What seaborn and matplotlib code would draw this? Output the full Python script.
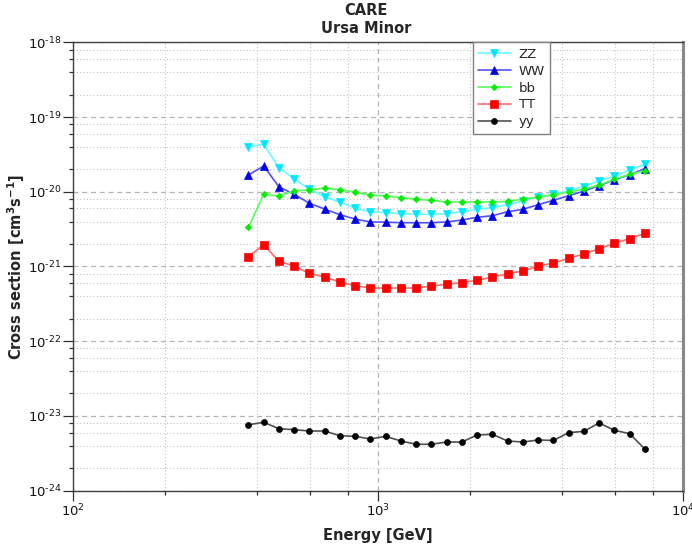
import numpy as np
import pandas as pd
import matplotlib
matplotlib.use("Agg")
import matplotlib.pyplot as plt
from matplotlib.ticker import LogLocator, NullFormatter, FixedLocator
import seaborn as sns

# Energy bins [GeV]
energy = [376, 422, 473, 531, 596, 668, 750, 841, 944, 1059, 1189, 1334, 1496,
          1679, 1884, 2113, 2371, 2661, 2985, 3350, 3758, 4217, 4732, 5309,
          5957, 6683, 7499]

# Upper limits on <sigma v> [cm^3 s^-1] per annihilation channel
zz = [4.01e-20, 4.32e-20, 2.10e-20, 1.48e-20, 1.08e-20, 8.59e-21, 7.30e-21,
      6.01e-21, 5.41e-21, 5.25e-21, 5.08e-21, 4.99e-21, 4.99e-21, 5.08e-21,
      5.41e-21, 5.82e-21, 6.12e-21, 6.71e-21, 7.52e-21, 8.59e-21, 9.25e-21,
      1.03e-20, 1.17e-20, 1.41e-20, 1.61e-20, 1.95e-20, 2.33e-20]
ww = [1.68e-20, 2.21e-20, 1.17e-20, 9.25e-21, 7.01e-21, 5.88e-21, 4.93e-21,
      4.32e-21, 3.94e-21, 3.92e-21, 3.85e-21, 3.85e-21, 3.85e-21, 3.94e-21,
      4.19e-21, 4.55e-21, 4.78e-21, 5.41e-21, 5.82e-21, 6.71e-21, 7.69e-21,
      8.86e-21, 1.02e-20, 1.21e-20, 1.44e-20, 1.69e-20, 2.04e-20]
bb = [3.34e-21, 9.33e-21, 8.78e-21, 1.03e-20, 1.06e-20, 1.12e-20, 1.07e-20,
      9.84e-21, 9.06e-21, 8.78e-21, 8.33e-21, 7.93e-21, 7.69e-21, 7.30e-21,
      7.30e-21, 7.30e-21, 7.30e-21, 7.45e-21, 7.93e-21, 8.51e-21, 9.06e-21,
      1.00e-20, 1.08e-20, 1.23e-20, 1.47e-20, 1.71e-20, 1.91e-20]
tt = [1.35e-21, 1.96e-21, 1.18e-21, 1.01e-21, 8.11e-22, 7.23e-22, 6.20e-22,
      5.53e-22, 5.15e-22, 5.15e-22, 5.15e-22, 5.15e-22, 5.48e-22, 5.78e-22,
      6.07e-22, 6.53e-22, 7.23e-22, 8.01e-22, 8.71e-22, 1.01e-21, 1.11e-21,
      1.29e-21, 1.47e-21, 1.73e-21, 2.04e-21, 2.36e-21, 2.78e-21]
yy = [7.63e-24, 8.22e-24, 6.75e-24, 6.55e-24, 6.29e-24, 6.29e-24, 5.44e-24,
      5.34e-24, 4.92e-24, 5.34e-24, 4.62e-24, 4.18e-24, 4.18e-24, 4.48e-24,
      4.48e-24, 5.56e-24, 5.68e-24, 4.62e-24, 4.48e-24, 4.77e-24, 4.70e-24,
      5.97e-24, 6.23e-24, 8.05e-24, 6.43e-24, 5.79e-24, 3.61e-24]

channels = ["ZZ", "WW", "bb", "TT", "yy"]
values = [zz, ww, bb, tt, yy]

# tick decades
x_exponents = [2, 3, 4]
y_exponents = [-24, -23, -22, -21, -20, -19, -18]

# channel: (line colour, marker colour, marker, marker size)
styles = {
    "ZZ": ("#66ffff", "#00e8ff", "v", 5.2),
    "WW": ("#5050ff", "#0000f0", "^", 5.2),
    "bb": ("#55ff55", "#00ee00", "D", 3.3),
    "TT": ("#ff6a6a", "#ff0000", "s", 5.3),
    "yy": ("#505050", "#000000", "o", 4.3),
}

df = pd.DataFrame({
    "Energy": np.tile(energy, len(channels)),
    "sigma": np.concatenate(values),
    "channel": np.repeat(channels, len(energy)),
})

sns.set_theme(style="white")
plt.rcParams["font.family"] = ["DejaVu Sans"]

fig = plt.figure(figsize=(6.92, 5.48), dpi=100)
ax = fig.add_axes([0.1055, 0.1046, 0.8815, 0.8182])

for ch in channels:
    lc, mc, mk, ms = styles[ch]
    sub = df[df["channel"] == ch]
    sns.lineplot(data=sub, x="Energy", y="sigma", ax=ax, color=lc, lw=1.2,
                 marker=mk, markersize=ms, markerfacecolor=mc,
                 markeredgecolor=mc, markeredgewidth=0.5, label=ch,
                 estimator=None, sort=False)

ax.set_xscale("log")
ax.set_yscale("log")
ax.set_xlim(1e2, 1e4)
ax.set_ylim(1e-24, 1e-18)

ax.xaxis.set_major_locator(FixedLocator([10.0 ** e for e in x_exponents]))
ax.yaxis.set_major_locator(FixedLocator([10.0 ** e for e in y_exponents]))
ax.xaxis.set_minor_locator(LogLocator(base=10, subs=(2, 4, 6, 8)))
ax.yaxis.set_minor_locator(LogLocator(base=10, subs=(2, 4, 6, 8)))
ax.xaxis.set_minor_formatter(NullFormatter())
ax.yaxis.set_minor_formatter(NullFormatter())
ax.set_xticklabels([rf"$10^{{\text{{{e}}}}}$" for e in x_exponents])
ax.set_yticklabels([rf"$10^{{\text{{{e}}}}}$" for e in y_exponents])

ax.grid(which="major", ls=(0, (4, 3)), color="#b4b4b4", lw=0.9)
ax.grid(which="minor", ls=(0, (1, 2)), color="#c4c4c4", lw=0.8)
ax.set_axisbelow(True)

ax.tick_params(which="major", direction="out", length=7, width=0.9,
               color="#303030", labelsize=9.5, labelcolor="#111111", pad=1.5,
               bottom=True, left=True)
ax.tick_params(which="minor", direction="out", length=3, width=0.9,
               color="#303030", bottom=True, left=True)

for side in ["left", "bottom", "top"]:
    ax.spines[side].set_color("#404040")
    ax.spines[side].set_linewidth(1.0)
ax.spines["right"].set_color("#888888")
ax.spines["right"].set_linewidth(2.2)

ax.set_xlabel("Energy [GeV]", fontsize=10.5, fontweight="bold")
ax.xaxis.set_label_coords(0.5, -0.083)
ax.set_ylabel(r"Cross section [cm$^{\mathbf{3}}$s$^{\mathbf{-1}}$]",
              fontsize=10.5, fontweight="bold")
ax.yaxis.set_label_coords(-0.075, 0.5)

fig.text(0.529, 0.981, "CARE", ha="center", va="center",
         fontsize=10.5, fontweight="bold")
fig.text(0.529, 0.948, "Ursa Minor", ha="center", va="center",
         fontsize=10.5, fontweight="bold")

leg = ax.legend(loc="upper left", bbox_to_anchor=(0.655, 1.0),
                borderaxespad=0.0, frameon=True, fancybox=False,
                edgecolor="#808080", framealpha=1.0, fontsize=9.5,
                handlelength=2.5, labelspacing=0.3, borderpad=0.4,
                handletextpad=0.6)
leg.get_frame().set_linewidth(1.0)

fig.savefig("out.png", dpi=100)
